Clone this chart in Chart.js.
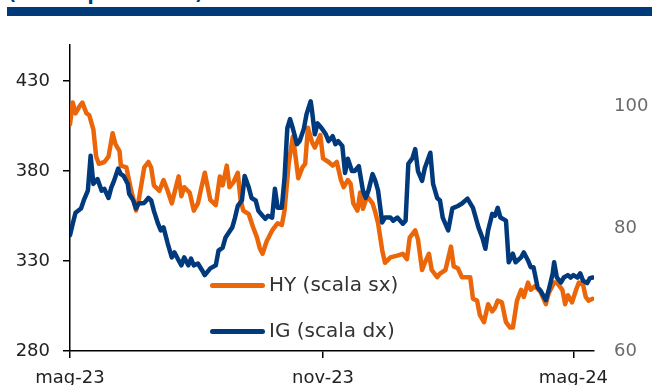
<!DOCTYPE html>
<html lang="it">
<head>
    <meta charset="UTF-8">
    <title>HY e IG</title>
    <script src="https://cdn.jsdelivr.net/npm/chart.js"></script>
    <style>
        body { margin: 0; background: #fff; overflow: hidden; }
        .wrap { position: relative; width: 652px; height: 385px; overflow: hidden; }
        .subtitle { position: absolute; left: 8px; top: -17px; font: bold 18px "DejaVu Sans", sans-serif; color: #003A78; }
        .bar { position: absolute; left: 7px; right: 0; top: 7px; height: 9px; background: #003A78; }
        canvas { position: absolute; left: 0; top: 0; }
        .legend { position: absolute; left: 210px; font: 20px "DejaVu Sans", sans-serif; color: #333; }
        .legend span.swatch { display: inline-block; width: 55px; height: 5px; border-radius: 3px; vertical-align: middle; margin-right: 4px; }
    </style>
</head>
<body>
<div class="wrap">
    <div class="subtitle">(dati in punti base)</div>
    <div class="bar"></div>
    <canvas id="spreadChart" width="652" height="385"></canvas>
    <div class="legend" style="top: 272px;"><span class="swatch" style="background:#EB6608"></span>HY (scala sx)</div>
    <div class="legend" style="top: 318px;"><span class="swatch" style="background:#003A7D"></span>IG (scala dx)</div>
</div>

<script>
    // days since 1 May 2023
    const xTickDays = [0, 184, 366];
    const xTickLabels = ['mag-23', 'nov-23', 'mag-24'];
    const leftTicks = [280, 330, 380, 430];
    const rightTicks = [60, 80, 100];

    // HY (left scale)
    const hyDays = [0, 2, 4, 7, 9, 12, 14, 17, 19, 21, 25, 28, 31, 33, 36, 37, 41, 44, 48, 50,
        54, 57, 59, 61, 65, 68, 71, 74, 79, 81, 83, 87, 90, 93, 95, 98, 102, 106, 109, 111,
        114, 116, 119, 122, 124, 126, 130, 133, 136, 138, 140, 143, 147, 151, 154, 156, 159, 162, 164, 166,
        169, 171, 173, 176, 178, 182, 184, 188, 191, 194, 197, 199, 202, 204, 206, 209, 211, 213, 216, 220,
        222, 224, 227, 229, 233, 238, 242, 245, 247, 251, 253, 256, 258, 261, 263, 267, 269, 273, 277, 279,
        282, 285, 289, 291, 293, 296, 298, 301, 304, 307, 309, 311, 314, 317, 320, 322, 325, 328, 330, 333,
        335, 338, 342, 346, 348, 352, 354, 358, 360, 362, 365, 368, 370, 373, 375, 377, 380];
    const hyValues = [406, 418, 412, 416, 418, 412, 411, 403, 388, 384, 385, 388, 401, 395, 391, 383, 382, 371, 358, 364,
        382, 385, 382, 372, 369, 375, 369, 362, 377, 366, 371, 368, 358, 362, 369, 379, 364, 361, 377, 372,
        383, 371, 374, 379, 364, 358, 356, 349, 343, 337, 334, 341, 347, 351, 350, 358, 384, 399, 388, 376,
        382, 384, 404, 396, 393, 400, 387, 385, 383, 385, 375, 371, 375, 373, 362, 358, 368, 359, 366, 362,
        357, 351, 336, 329, 332, 333, 334, 331, 343, 347, 342, 325, 329, 334, 325, 321, 323, 325, 338, 327,
        326, 321, 321, 321, 309, 308, 300, 296, 306, 302, 304, 308, 307, 296, 293, 293, 308, 314, 310, 318,
        314, 316, 313, 306, 312, 318, 318, 314, 306, 311, 307, 314, 318, 317, 310, 308, 309];

    // IG (right scale)
    const igDays = [0, 2, 4, 8, 10, 13, 15, 17, 20, 23, 25, 28, 30, 32, 35, 37, 39, 42, 43, 46,
        48, 50, 54, 57, 59, 61, 64, 66, 68, 71, 74, 76, 79, 81, 83, 86, 88, 90, 93, 96,
        98, 102, 106, 108, 111, 113, 115, 118, 120, 122, 125, 127, 130, 132, 135, 137, 140, 142, 144, 147,
        149, 151, 154, 156, 158, 160, 162, 165, 167, 170, 172, 175, 176, 178, 180, 183, 186, 188, 191, 193,
        195, 198, 200, 202, 205, 207, 210, 213, 215, 217, 220, 222, 224, 227, 229, 233, 235, 238, 242, 244,
        246, 249, 251, 253, 256, 258, 262, 264, 267, 269, 271, 275, 278, 282, 285, 289, 293, 295, 297, 300,
        302, 304, 307, 309, 311, 313, 317, 319, 322, 324, 328, 330, 333, 335, 337, 340, 342, 346, 348, 351,
        352, 354, 357, 359, 362, 364, 366, 369, 371, 373, 376, 378, 380];
    const igValues = [78.9, 80.8, 82.6, 83.3, 84.6, 86.2, 91.9, 87.3, 88.1, 86.2, 86.5, 85.0, 86.7, 87.8, 89.8, 88.9, 88.6, 87.3, 85.7, 84.6,
        83.3, 84.1, 84.2, 85.0, 84.6, 82.9, 80.8, 79.7, 80.2, 77.6, 75.3, 76.1, 74.8, 74.0, 75.3, 74.0, 75.1, 74.0, 74.3, 73.2,
        72.4, 73.5, 74.0, 76.4, 76.9, 78.5, 79.2, 80.2, 81.8, 83.7, 84.6, 88.6, 86.7, 85.0, 84.6, 82.9, 82.1, 81.6, 82.1, 81.8,
        86.5, 83.4, 83.4, 88.3, 96.4, 97.9, 96.4, 93.8, 94.3, 96.3, 98.7, 100.8, 99.2, 95.4, 97.2, 96.4, 95.4, 94.3, 95.1, 93.8,
        94.3, 93.5, 89.1, 91.4, 89.4, 89.4, 90.2, 86.2, 85.0, 86.2, 88.9, 87.8, 86.2, 81.0, 81.8, 81.8, 81.3, 81.8, 80.8, 81.3,
        90.6, 91.5, 93.0, 89.4, 87.8, 89.9, 92.4, 87.3, 85.0, 84.6, 81.8, 79.7, 83.3, 83.7, 84.1, 84.9, 83.4, 81.8, 80.2, 78.4,
        76.7, 79.7, 82.4, 82.1, 83.4, 81.8, 81.3, 74.5, 75.9, 74.5, 75.3, 76.1, 74.8, 73.7, 73.7, 70.4, 69.9, 68.3, 69.9, 72.7,
        74.5, 72.0, 71.2, 72.0, 72.4, 72.0, 72.4, 72.0, 72.7, 71.5, 71.1, 71.9, 72.0];

    const toPoints = (days, vals) => days.map((d, i) => ({ x: d, y: vals[i] }));

    const tickFont = { family: 'DejaVu Sans', size: 18 };

    const ctx = document.getElementById('spreadChart').getContext('2d');
    new Chart(ctx, {
        type: 'line',
        data: {
            datasets: [{
                label: 'HY (scala sx)',
                data: toPoints(hyDays, hyValues),
                yAxisID: 'y',
                borderColor: '#EB6608',
                borderWidth: 4.5,
                order: 2
            }, {
                label: 'IG (scala dx)',
                data: toPoints(igDays, igValues),
                yAxisID: 'y1',
                borderColor: '#003A7D',
                borderWidth: 4.5,
                order: 1
            }]
        },
        options: {
            responsive: false,
            animation: false,
            layout: { padding: { top: 45, left: 0, right: 0, bottom: 0 } },
            elements: {
                point: { radius: 0 },
                line: { tension: 0, borderCapStyle: 'round', borderJoinStyle: 'round' }
            },
            plugins: { legend: { display: false }, tooltip: { enabled: false } },
            scales: {
                x: {
                    type: 'linear',
                    min: 0,
                    max: 381,
                    afterBuildTicks: axis => { axis.ticks = xTickDays.map(v => ({ value: v })); },
                    afterFit: axis => { axis.height = 34; },
                    ticks: {
                        font: tickFont,
                        color: '#222',
                        padding: 10,
                        maxRotation: 0,
                        callback: v => xTickLabels[xTickDays.indexOf(v)]
                    },
                    grid: { drawOnChartArea: false, color: '#000', tickLength: 7, lineWidth: 1.5 },
                    border: { color: '#000', width: 1.5 }
                },
                y: {
                    position: 'left',
                    min: 280,
                    max: 450,
                    afterBuildTicks: axis => { axis.ticks = leftTicks.map(v => ({ value: v })); },
                    afterFit: axis => { axis.width = 70; },
                    ticks: { font: tickFont, color: '#222', padding: 13 },
                    grid: { drawOnChartArea: false, color: '#000', tickLength: 7, lineWidth: 1.5 },
                    border: { color: '#000', width: 1.5 }
                },
                y1: {
                    position: 'right',
                    min: 60,
                    max: 110,
                    afterBuildTicks: axis => { axis.ticks = rightTicks.map(v => ({ value: v })); },
                    afterFit: axis => { axis.width = 58; },
                    ticks: { font: tickFont, color: '#6b6b6b', padding: 20 },
                    grid: { display: false, drawTicks: false },
                    border: { display: false }
                }
            }
        }
    });
</script>
</body>
</html>
